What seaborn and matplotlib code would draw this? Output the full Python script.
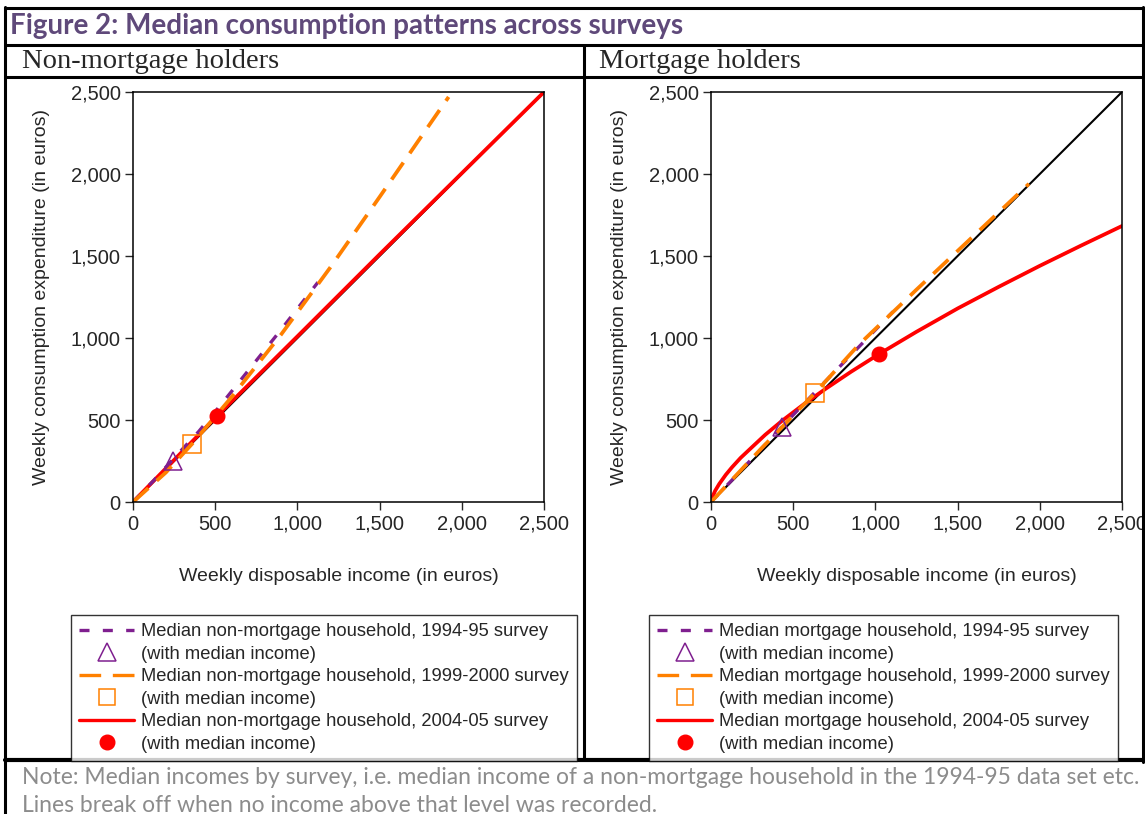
import numpy as np
import matplotlib
matplotlib.use("Agg")
import matplotlib.pyplot as plt
import seaborn as sns
from matplotlib.lines import Line2D
from matplotlib.ticker import FuncFormatter

sns.set_theme(style="ticks")
plt.rcParams["font.family"] = ["Liberation Sans", "DejaVu Sans"]

# ---- data ----
# non-mortgage holders
nm_9495_x = [0, 125, 245, 400, 550, 700, 900, 1125]
nm_9495_y = [0, 130, 262, 430, 612, 800, 1050, 1340]
nm_9900_x = [0, 200, 359, 600, 900, 1200, 1500, 1920]
nm_9900_y = [0, 180, 354, 640, 1020, 1430, 1860, 2470]
nm_0405_x = [0, 511, 1000, 1500, 2000, 2500]
nm_0405_y = [0, 524, 1010, 1510, 2005, 2500]
nm_median_x = [245, 359, 511]
nm_median_y = [250, 354, 524]

# mortgage holders
m_9495_x = [0, 128, 432, 700, 1107]
m_9495_y = [0, 134, 460, 740, 1160]
m_9900_x = [0, 300, 633, 900, 1250, 1600, 1934]
m_9900_y = [0, 320, 665, 960, 1295, 1625, 1940]
m_0405_x = [0, 8, 25, 50, 90, 128, 180, 250, 330, 432, 575, 700, 850, 1022,
            1250, 1500, 1750, 2000, 2250, 2500]
m_0405_y = [0, 30, 68, 110, 166, 212, 269, 335, 410, 495, 604, 692, 793, 902,
            1038, 1180, 1312, 1440, 1563, 1683]
m_median_x = [432, 633, 1022]
m_median_y = [455, 665, 902]

diag = [0, 2500]

PURPLE = "#7F1F8F"
ORANGE = "#FF8000"
RED = "#FF0000"

W, H = 1145, 814
fig = plt.figure(figsize=(W / 100, H / 100), dpi=100)
fig.patch.set_facecolor("white")


def px(x, y):
    return x / W, 1 - y / H


def hline(y, x0, x1, lw=2.2):
    fig.add_artist(Line2D([x0 / W, x1 / W], [1 - y / H, 1 - y / H], color="black", lw=lw,
                          transform=fig.transFigure))


def vline(x, y0, y1, lw=2.2):
    fig.add_artist(Line2D([x / W, x / W], [1 - y0 / H, 1 - y1 / H], color="black", lw=lw,
                          transform=fig.transFigure))


def panel(left, xs, meds, title_x, title, which):
    ax = fig.add_axes([left / W, 1 - 502 / H, 411 / W, 410 / H])
    sns.lineplot(x=diag, y=diag, ax=ax, color="black", lw=1.5)
    sns.lineplot(x=xs[2][0], y=xs[2][1], ax=ax, color=RED, lw=2.7, sort=False)
    sns.lineplot(x=xs[0][0], y=xs[0][1], ax=ax, color=PURPLE, lw=2.4)
    ax.lines[-1].set_dashes([3, 4])
    sns.lineplot(x=xs[1][0], y=xs[1][1], ax=ax, color=ORANGE, lw=2.7)
    ax.lines[-1].set_dashes([5.5, 3])
    ax.plot(meds[0][0], meds[1][0], marker="^", ms=13, mfc="none", mec=PURPLE, mew=1.1, ls="none")
    ax.plot(meds[0][1], meds[1][1], marker="s", ms=13, mfc="none", mec=ORANGE, mew=1.1, ls="none")
    ax.plot(meds[0][2], meds[1][2], marker="o", ms=10.5, color=RED, ls="none")
    ax.set_xlim(0, 2500)
    ax.set_ylim(0, 2500)
    ax.set_xticks([0, 500, 1000, 1500, 2000, 2500])
    ax.set_yticks([0, 500, 1000, 1500, 2000, 2500])
    fmt = FuncFormatter(lambda v, p: f"{int(v):,}")
    ax.xaxis.set_major_formatter(fmt)
    ax.yaxis.set_major_formatter(fmt)
    ax.tick_params(axis="both", labelsize=14.5, length=6, width=1, direction="out", pad=3)
    for s in ax.spines.values():
        s.set_color("black")
        s.set_linewidth(1.1)
    ax.set_xlabel("Weekly disposable income (in euros)", fontsize=14, labelpad=25)
    ax.set_ylabel("Weekly consumption expenditure (in euros)", fontsize=14, labelpad=15)
    ax.set_facecolor("white")

    fig.text(*px(title_x, 62), title, family=["Liberation Serif", "DejaVu Serif"],
             fontsize=20.5, va="center", ha="left")

    handles = [
        Line2D([], [], color=PURPLE, lw=2.4, dashes=[3, 4]),
        Line2D([], [], marker="^", ms=13, mfc="none", mec=PURPLE, mew=1.1, ls="none"),
        Line2D([], [], color=ORANGE, lw=2.4, dashes=[6.5, 3.5]),
        Line2D([], [], marker="s", ms=12, mfc="none", mec=ORANGE, mew=1.1, ls="none"),
        Line2D([], [], color=RED, lw=2.4),
        Line2D([], [], marker="o", ms=10.5, color=RED, ls="none"),
    ]
    labels = [
        f"Median {which} household, 1994-95 survey", "(with median income)",
        f"Median {which} household, 1999-2000 survey", "(with median income)",
        f"Median {which} household, 2004-05 survey", "(with median income)",
    ]
    return ax, handles, labels


ax1, h1, l1 = panel(133, [(nm_9495_x, nm_9495_y), (nm_9900_x, nm_9900_y), (nm_0405_x, nm_0405_y)],
                    (nm_median_x, nm_median_y), 22, "Non-mortgage holders", "non-mortgage")
ax2, h2, l2 = panel(711, [(m_9495_x, m_9495_y), (m_9900_x, m_9900_y), (m_0405_x, m_0405_y)],
                    (m_median_x, m_median_y), 599, "Mortgage holders", "mortgage")

for hs, ls, x0 in [(h1, l1, 71), (h2, l2, 649)]:
    leg = fig.legend(hs, ls, loc="upper left", bbox_to_anchor=(x0 / W, 1 - 615 / H),
                     fontsize=13.2, frameon=True, fancybox=False, handlelength=3.0,
                     handletextpad=0.35, labelspacing=0.3, borderpad=0.45, borderaxespad=0)
    leg.get_frame().set_edgecolor("black")
    leg.get_frame().set_linewidth(1.0)

# title and table rules
fig.text(*px(10, 26), "Figure 2: Median consumption patterns across surveys",
         family=["Lato", "DejaVu Sans"], fontweight="bold", fontsize=20,
         color="#5F497A", va="center", ha="left")
hline(8, 5, 1143)
hline(45, 5, 1143)
hline(77, 5, 1143)
hline(760, 5, 1143, lw=3)
vline(5, 7, 814)
vline(1143, 7, 762)
vline(584, 45, 760)

fig.text(*px(22, 777), "Note: Median incomes by survey, i.e. median income of a non-mortgage household in the 1994-95 data set etc.",
         family=["Lato", "DejaVu Sans"], fontsize=16.5, color="#8C8C8C", va="center", ha="left")
fig.text(*px(22, 805), "Lines break off when no income above that level was recorded.",
         family=["Lato", "DejaVu Sans"], fontsize=16.5, color="#8C8C8C", va="center", ha="left")

fig.savefig("out.png", dpi=100, facecolor="white")
